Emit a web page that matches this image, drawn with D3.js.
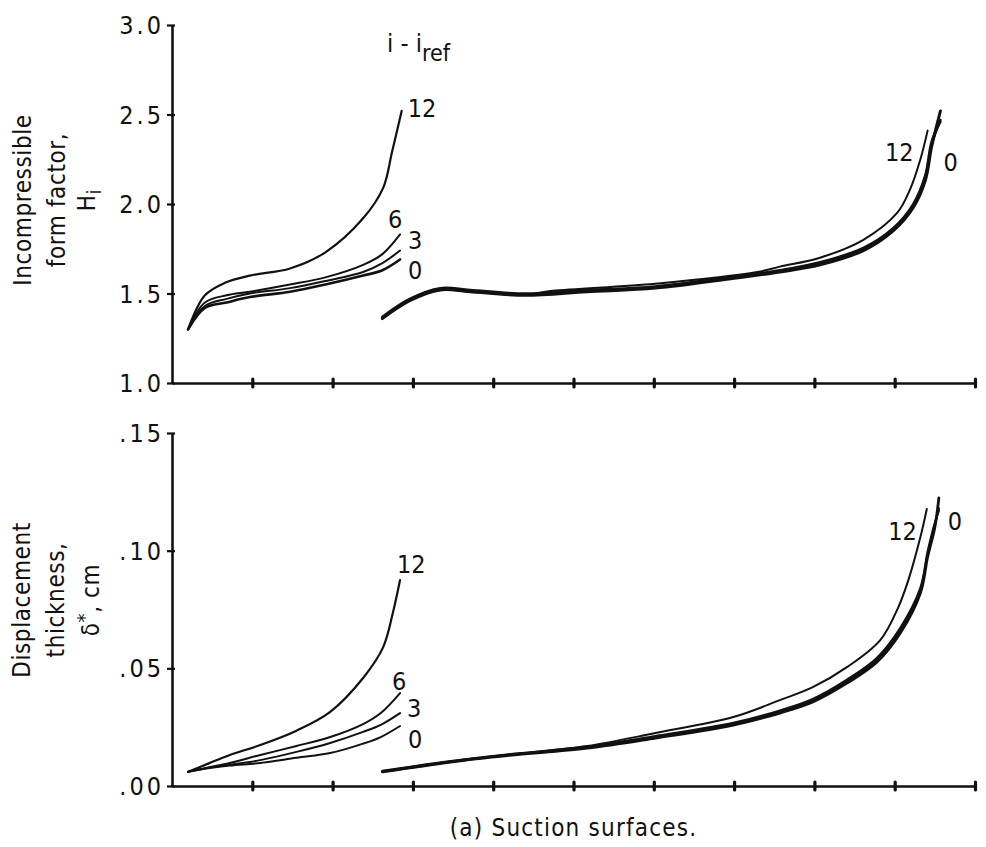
<!DOCTYPE html>
<html>
<head>
<meta charset="utf-8">
<script src="https://cdn.jsdelivr.net/npm/d3@7/dist/d3.min.js"></script>
<style>
  body { margin: 0; background: #fff; }
  svg text { font-family: "Liberation Sans Narrow", "DejaVu Sans Condensed", "Roboto Condensed", sans-serif; fill: #111; }
</style>
</head>
<body>
<svg id="chart" width="986" height="847"></svg>
<script>
// ---- axis ticks -------------------------------------------------------
const xTicks = [1, 2, 3, 4, 5, 6, 7, 8, 9, 10];
const hTicks = [1.0, 1.5, 2.0, 2.5, 3.0];
const dTicks = [0.00, 0.05, 0.10, 0.15];
const incidenceLabels = ["0", "3", "6", "12"];

// ---- incompressible form factor H_i, front section ---------------------
const hFrontX   = [0.2, 0.41, 0.68, 0.97, 1.47, 1.91, 2.38, 2.62, 2.84];
const hFront0   = [1.30, 1.42, 1.45, 1.48, 1.51, 1.55, 1.60, 1.63, 1.69];
const hFront3   = [1.30, 1.43, 1.47, 1.50, 1.53, 1.57, 1.62, 1.67, 1.74];
const hFront6   = [1.30, 1.45, 1.49, 1.51, 1.55, 1.59, 1.66, 1.72, 1.83];
const hFront12X = [0.2, 0.41, 0.66, 0.97, 1.47, 1.91, 2.38, 2.63, 2.74, 2.86];
const hFront12  = [1.30, 1.49, 1.56, 1.60, 1.64, 1.73, 1.92, 2.09, 2.29, 2.52];

// ---- incompressible form factor H_i, rear section ----------------------
const hRearX    = [2.62, 2.96, 3.34, 3.71, 4.40, 5.17, 6.02, 7.0, 7.57, 8.07, 8.61, 8.98, 9.23, 9.38, 9.46, 9.57];
const hRear0    = [1.36, 1.46, 1.52, 1.51, 1.49, 1.51, 1.53, 1.585, 1.62, 1.66, 1.74, 1.85, 1.98, 2.13, 2.32, 2.52];
const hRear3    = [1.365, 1.465, 1.525, 1.515, 1.495, 1.515, 1.535, 1.59, 1.625, 1.67, 1.75, 1.86, 1.99, 2.15, 2.33, 2.47];
const hRear6    = [1.37, 1.47, 1.53, 1.52, 1.50, 1.52, 1.54, 1.595, 1.63, 1.675, 1.755, 1.865, 2.00, 2.16, 2.35, 2.46];
const hRear12X  = [2.62, 2.96, 3.34, 3.71, 4.40, 4.74, 6.02, 7.29, 7.57, 8.07, 8.61, 9.03, 9.19, 9.32, 9.41];
const hRear12   = [1.36, 1.46, 1.52, 1.51, 1.495, 1.515, 1.555, 1.62, 1.65, 1.70, 1.80, 1.95, 2.08, 2.25, 2.41];

// ---- displacement thickness (cm), front section ------------------------
const dFrontX   = [0.2, 0.45, 0.72, 1.10, 1.55, 1.97, 2.38, 2.6, 2.84];
const dFront0   = [0.006, 0.0075, 0.0087, 0.0098, 0.012, 0.014, 0.018, 0.0208, 0.0255];
const dFront3   = [0.006, 0.0077, 0.009, 0.011, 0.0145, 0.0183, 0.023, 0.026, 0.031];
const dFront6   = [0.006, 0.0079, 0.0098, 0.0132, 0.017, 0.0208, 0.0263, 0.031, 0.0395];
const dFront12X = [0.2, 0.45, 0.72, 1.10, 1.55, 1.97, 2.38, 2.63, 2.75, 2.84];
const dFront12  = [0.006, 0.0095, 0.0132, 0.0174, 0.0235, 0.0315, 0.0459, 0.059, 0.0735, 0.0875];

// ---- displacement thickness (cm), rear section -------------------------
const dRearX    = [2.62, 3.47, 4.2, 5.17, 6.02, 6.99, 7.57, 7.98, 8.41, 8.78, 9.07, 9.32, 9.41, 9.50, 9.55];
const dRear0    = [0.006, 0.0102, 0.013, 0.0161, 0.0204, 0.0259, 0.031, 0.0357, 0.0438, 0.0527, 0.065, 0.082, 0.0973, 0.110, 0.1224];
const dRear3    = [0.0062, 0.0104, 0.0133, 0.0164, 0.0208, 0.0264, 0.0316, 0.0364, 0.0446, 0.0537, 0.0662, 0.0832, 0.0985, 0.111, 0.118];
const dRear6    = [0.0064, 0.0106, 0.0135, 0.0167, 0.0212, 0.0268, 0.0321, 0.037, 0.0453, 0.0545, 0.0672, 0.0842, 0.0995, 0.1118, 0.117];
const dRear12X  = [2.62, 3.47, 4.2, 5.17, 6.02, 6.99, 7.57, 7.98, 8.41, 8.82, 9.04, 9.17, 9.32, 9.40];
const dRear12   = [0.006, 0.0102, 0.0133, 0.017, 0.0225, 0.0293, 0.0365, 0.042, 0.0506, 0.062, 0.0756, 0.0875, 0.1058, 0.1177];

// ---- layout -------------------------------------------------------------
const svg = d3.select("#chart");
svg.append("rect").attr("width", 986).attr("height", 847).attr("fill", "#fff");

const x = d3.scaleLinear().domain([0, 10]).range([172, 975]);
const yH = d3.scaleLinear().domain([1, 3]).range([383, 25]);
const yD = d3.scaleLinear().domain([0, 0.15]).range([786, 433]);

const ink = "#111";

function drawAxes(yScale, ticks, fmt) {
  const g = svg.append("g");
  // horizontal axis with dot-like station ticks, no labels
  const xa = g.append("g")
    .attr("transform", `translate(0,${yScale.range()[0]})`)
    .call(d3.axisBottom(x).tickValues(xTicks).tickSize(0).tickSizeOuter(0).tickFormat(""));
  xa.select(".domain").attr("stroke", ink).attr("stroke-width", 2.6);
  xa.selectAll(".tick line").attr("y1", -4).attr("y2", 4)
    .attr("stroke", ink).attr("stroke-width", 3.2).attr("stroke-linecap", "round");

  const ya = g.append("g")
    .attr("transform", `translate(${x(0)},0)`)
    .call(d3.axisLeft(yScale).tickValues(ticks).tickSize(5).tickSizeOuter(0).tickPadding(3).tickFormat(fmt));
  ya.select(".domain").attr("stroke", ink).attr("stroke-width", 2.6);
  ya.selectAll(".tick line").attr("x1", 3).attr("stroke", ink).attr("stroke-width", 2.2);
  ya.selectAll(".tick text")
    .style("font-size", "25px").style("letter-spacing", "3px")
    .attr("fill", ink).attr("dy", "0.34em");
}

drawAxes(yH, hTicks, d3.format(".1f"));
drawAxes(yD, dTicks, d => d3.format(".2f")(d).replace(/^0/, ""));

// ---- curves -------------------------------------------------------------
function curve(xs, ys, yScale, width) {
  const gen = d3.line()
    .x((d, i) => x(xs[i]))
    .y(d => yScale(d))
    .curve(d3.curveCatmullRom.alpha(0.5));
  svg.append("path")
    .attr("d", gen(ys))
    .attr("fill", "none")
    .attr("stroke", ink)
    .attr("stroke-width", width)
    .attr("stroke-linejoin", "round")
    .attr("stroke-linecap", "round");
}

// form factor
curve(hFrontX, hFront0, yH, 2.6);
curve(hFrontX, hFront3, yH, 2.0);
curve(hFrontX, hFront6, yH, 2.0);
curve(hFront12X, hFront12, yH, 2.2);
curve(hRearX, hRear0, yH, 3.0);
curve(hRearX, hRear3, yH, 2.4);
curve(hRearX, hRear6, yH, 2.4);
curve(hRear12X, hRear12, yH, 2.0);

// displacement thickness
curve(dFrontX, dFront0, yD, 2.0);
curve(dFrontX, dFront3, yD, 2.0);
curve(dFrontX, dFront6, yD, 2.0);
curve(dFront12X, dFront12, yD, 2.2);
curve(dRearX, dRear0, yD, 2.8);
curve(dRearX, dRear3, yD, 2.2);
curve(dRearX, dRear6, yD, 2.2);
curve(dRear12X, dRear12, yD, 2.0);

// ---- incidence labels at curve ends -------------------------------------
function endLabel(xs, ys, yScale, text, dx, dy, anchor) {
  const n = xs.length - 1;
  svg.append("text")
    .attr("x", x(xs[n]) + dx)
    .attr("y", yScale(ys[n]) + dy)
    .attr("text-anchor", anchor || "start")
    .style("font-size", "25px")
    .text(text);
}
const [L0, L3, L6, L12] = incidenceLabels;
endLabel(hFront12X, hFront12, yH, L12, 6, 6);
endLabel(hFrontX, hFront6, yH, L6, -12, -6);
endLabel(hFrontX, hFront3, yH, L3, 8, -2);
endLabel(hFrontX, hFront0, yH, L0, 8, 20);
endLabel(hRear12X, hRear12, yH, L12, -14, 30, "end");
endLabel(hRearX, hRear0, yH, L0, 3, 60);

endLabel(dFront12X, dFront12, yD, L12, -3, -7);
endLabel(dFrontX, dFront6, yD, L6, -8, -3);
endLabel(dFrontX, dFront3, yD, L3, 7, 4);
endLabel(dFrontX, dFront0, yD, L0, 8, 22);
endLabel(dRear12X, dRear12, yD, L12, -10, 31, "end");
endLabel(dRearX, dRear0, yD, L0, 9, 32);

// ---- legend title ---------------------------------------------------------
const leg = svg.append("text").attr("x", 387).attr("y", 52).style("font-size", "25px");
leg.append("tspan").text("i - i");
leg.append("tspan").attr("dy", 9).style("font-size", "23px").text("ref");

// ---- axis titles ------------------------------------------------------------
function vTitle(cy, lines) {
  lines.forEach(l => {
    const t = svg.append("text")
      .attr("transform", `translate(${l.bx},${cy}) rotate(-90)`)
      .attr("text-anchor", "middle")
      .style("font-size", "24px")
      .style("letter-spacing", "0.6px");
    l.parts.forEach(p => {
      const s = t.append("tspan").text(p.t);
      if (p.dy) s.attr("dy", p.dy);
      if (p.size) s.style("font-size", p.size);
    });
  });
}
vTitle(200, [
  { bx: 31, parts: [{ t: "Incompressible" }] },
  { bx: 65, parts: [{ t: "form factor," }] },
  { bx: 95, parts: [{ t: "H" }, { t: "i", dy: 6, size: "20px" }] }
]);
vTitle(600, [
  { bx: 30, parts: [{ t: "Displacement" }] },
  { bx: 64, parts: [{ t: "thickness," }] },
  { bx: 99, parts: [{ t: "δ" }, { t: "*", dy: -8, size: "20px" }, { t: ", cm", dy: 8 }] }
]);

// ---- caption ----------------------------------------------------------------
svg.append("text")
  .attr("x", (x(0) + x(10)) / 2)
  .attr("y", 836)
  .attr("text-anchor", "middle")
  .style("font-size", "24px")
  .style("letter-spacing", "1.2px")
  .text("(a) Suction surfaces.");
</script>
</body>
</html>
